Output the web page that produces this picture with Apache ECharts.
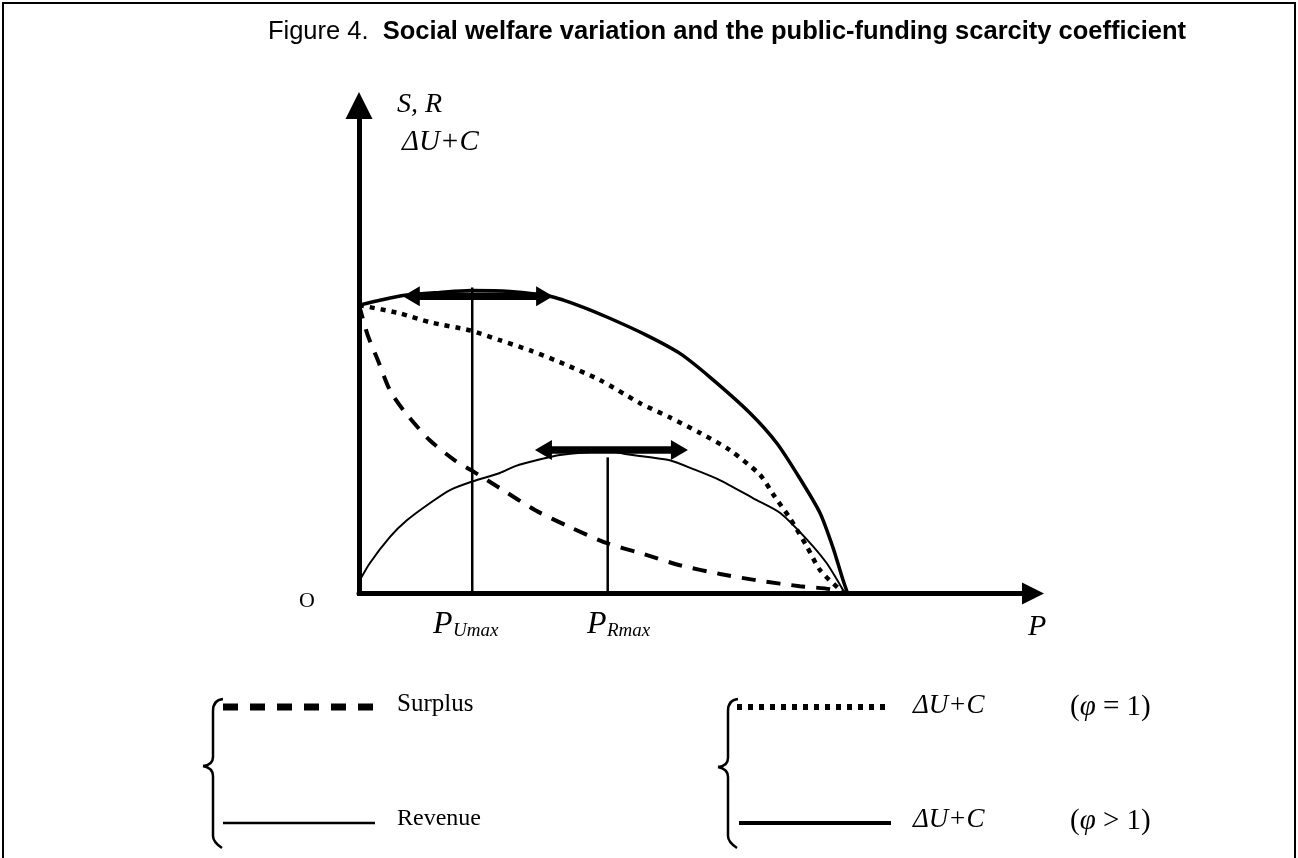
<!DOCTYPE html>
<html><head><meta charset="utf-8">
<script src="https://cdn.jsdelivr.net/npm/echarts/dist/echarts.min.js"></script>
<style>html,body{margin:0;padding:0;background:#fff}#c{width:1298px;height:858px}</style>
</head><body><div id="c"></div>
<script>
// P (price) on x, value on y (arbitrary units, 0–100)
const surplus = [[0,59.1],[1.3,52.9],[2.8,47.8],[4.6,41.6],[6.8,37.2],[10.5,31.4],[14.2,27.3],[16.6,25.3],[20.9,21.6],[26.1,17.1],[31.3,13.6],[36.8,10.3],[41.7,8.3],[47.6,5.8],[53.6,4.0],[59.5,2.6],[65.4,1.5],[69.9,0.9],[72.1,0]];
const revenue = [[0,2.4],[1.6,6.2],[4.6,11.6],[7.1,15.0],[10.5,18.5],[13.5,21.2],[16.9,23.0],[20.9,24.7],[23.2,26.1],[26.9,27.5],[29.8,28.4],[34.3,29.0],[36.8,29.2],[39.5,28.6],[43.2,27.9],[46.1,27.3],[49.6,25.5],[53.6,23.2],[58.5,19.5],[62.5,16.5],[66.5,11.0],[69.4,6.2],[71.4,1.7],[72.1,0]];
const welfarePhi1 = [[0,59.1],[6.1,57.4],[10.5,55.6],[16.5,53.9],[20.9,51.9],[25.4,49.8],[29.8,47.4],[35.8,43.7],[41.7,39.0],[46.1,36.1],[50.6,32.9],[55.0,29.4],[59.5,24.3],[61.7,19.8],[63.9,15.5],[66.5,9.5],[68.4,4.8],[71.4,0.7],[72.1,0]];
const welfarePhiGt1 = [[0,59.1],[3.1,60.1],[6.8,61.1],[12.0,61.7],[16.6,62.1],[22.4,61.9],[28.3,60.9],[32.8,58.9],[37.2,56.4],[42.7,52.9],[47.6,49.2],[52.1,44.3],[58.0,37.0],[62.0,30.8],[65.4,23.6],[68.4,16.5],[70.3,9.5],[71.8,2.8],[72.5,0]];
// vertical markers: [P, top value]  (P_Umax, P_Rmax)
const markers = [[16.8,62.7],[36.9,27.9]];
// double-headed range arrows: [P from, P to, value]
const rangeArrows = [[6.5,28.8,60.9],[26.1,48.8,29.4]];
const legendNames = ['Surplus','Revenue','ΔU+C','ΔU+C'];

const SERIF = '"Liberation Serif","Times New Roman",serif';
const SANS = '"Liberation Sans",Arial,sans-serif';
const chart = echarts.init(document.getElementById('c'), null, {renderer:'canvas'});

function txt(text, x, y, font, align){
  return {type:'text', silent:true, z:10, style:{text, x, y, font, fill:'#000',
    textAlign: align||'left', align: align||'left', textVerticalAlign:'middle', verticalAlign:'middle'}};
}
const stroke = (w, dash) => ({fill:null, stroke:'#000', lineWidth:w, lineDash:dash||null});
function curve(x1,y1,cpx1,cpy1,x2,y2){
  return {type:'bezierCurve', silent:true, shape:{x1,y1,cpx1,cpy1,x2,y2}, style:stroke(2.5)};
}
function seg(x1,y1,x2,y2,w,dash){
  return {type:'line', silent:true, shape:{x1,y1,x2,y2}, style:stroke(w,dash)};
}
function brace(x, cx, top, mid, bot){
  return {type:'group', silent:true, children:[
    curve(x+10,top, x,top+1, x,top+12),
    seg(x,top+12, x,mid-9, 2.5),
    curve(x,mid-9, x,mid-1, cx,mid),
    curve(cx,mid, x,mid+2, x,mid+10),
    seg(x,mid+10, x,bot-10, 2.5),
    curve(x,bot-10, x,bot-4, x+9,bot+2)
  ]};
}
function phiText(rel, y){
  return {type:'text', silent:true, style:{x:1070, y, text:'{r|(}{i|φ}{r| '+rel+' 1)}', textVerticalAlign:'middle', verticalAlign:'middle',
    rich:{r:{fontFamily:SERIF, fontSize:29, fill:'#000'}, i:{fontFamily:SERIF, fontSize:29, fontStyle:'italic', fill:'#000'}}}};
}

const option = {
  animation:false,
  backgroundColor:'#fff',
  grid:{left:359, right:265, top:105.5, bottom:264.5},
  xAxis:{type:'value', min:0, max:100,
    axisLine:{show:true, lineStyle:{color:'#000', width:5}, symbol:['none','path://M5,0L10,10L0,10Z'], symbolSize:[27,22]},
    axisTick:{show:false}, axisLabel:{show:false}, splitLine:{show:false}},
  yAxis:{type:'value', min:0, max:100,
    axisLine:{show:true, lineStyle:{color:'#000', width:5, cap:'square'}, symbol:['none','path://M5,0L10,10L0,10Z'], symbolSize:[28,27]},
    axisTick:{show:false}, axisLabel:{show:false}, splitLine:{show:false}},
  series:[
    {name:legendNames[0], type:'line', data:surplus, showSymbol:false, smooth:0.25, lineStyle:{color:'#000', width:4, type:[14,11]}},
    {name:legendNames[1], type:'line', data:revenue, showSymbol:false, smooth:0.25, lineStyle:{color:'#000', width:2}},
    {name:legendNames[2], type:'line', data:welfarePhi1, showSymbol:false, smooth:0.25, lineStyle:{color:'#000', width:4.5, type:[5,6]}},
    {name:legendNames[3], type:'line', data:welfarePhiGt1, showSymbol:false, smooth:0.25, lineStyle:{color:'#000', width:3.5}},
    {type:'custom', data:markers, clip:false, encode:{x:0,y:1}, z:4,
      renderItem(params, api){
        const a = api.coord([api.value(0), 0]);
        const b = api.coord([api.value(0), api.value(1)]);
        return {type:'line', shape:{x1:a[0], y1:a[1], x2:b[0], y2:b[1]}, style:{stroke:'#000', lineWidth:2.5}};
      }},
    {type:'custom', data:rangeArrows, clip:false, encode:{x:[0,1],y:2}, z:5,
      renderItem(params, api){
        const a = api.coord([api.value(0), api.value(2)]);
        const b = api.coord([api.value(1), api.value(2)]);
        const y = a[1], hl = 17, hw = 10, sw = 3.8;
        return {type:'polygon', shape:{points:[[a[0],y],[a[0]+hl,y-hw],[a[0]+hl,y-sw],[b[0]-hl,y-sw],[b[0]-hl,y-hw],[b[0],y],[b[0]-hl,y+hw],[b[0]-hl,y+sw],[a[0]+hl,y+sw],[a[0]+hl,y+hw]]}, style:{fill:'#000'}};
      }}
  ],
  graphic:[
    {type:'rect', silent:true, shape:{x:3, y:3, width:1292, height:900}, style:{fill:null, stroke:'#000', lineWidth:2}},
    {type:'text', silent:true, style:{x:727, y:32, text:'{n|Figure 4.  }{b|Social welfare variation and the public-funding scarcity coefficient}',
      textAlign:'center', align:'center', textVerticalAlign:'middle', verticalAlign:'middle', fill:'#000',
      rich:{n:{fontFamily:SANS, fontSize:25.5, fill:'#000'}, b:{fontFamily:SANS, fontSize:25.5, fontWeight:'bold', fill:'#000'}}}},
    txt('S, R', 397, 105, 'italic 28px '+SERIF),
    txt('ΔU+C', 402, 142.5, 'italic 29px '+SERIF),
    txt('O', 307, 601, '22px '+SERIF, 'center'),
    txt('P', 433, 624.5, 'italic 32px '+SERIF),
    txt('Umax', 453, 631, 'italic 19px '+SERIF),
    txt('P', 587, 624.5, 'italic 32px '+SERIF),
    txt('Rmax', 607, 631, 'italic 19px '+SERIF),
    txt('P', 1028, 627, 'italic 30px '+SERIF),
    brace(213, 203, 699, 766, 846),
    brace(728, 718, 699, 767, 846),
    seg(223,707,373,707,7,[15,12]),
    seg(223,823,375,823,2.5),
    seg(737,707,887,707,6,[5,6]),
    seg(739,823,891,823,4),
    txt(legendNames[0], 397, 704, '25px '+SERIF),
    txt(legendNames[1], 397, 819, '24px '+SERIF),
    txt(legendNames[2], 913, 706, 'italic 27px '+SERIF),
    txt(legendNames[3], 913, 820, 'italic 27px '+SERIF),
    phiText('=', 707),
    phiText('>', 821)
  ]
};
chart.setOption(option);
</script></body></html>
